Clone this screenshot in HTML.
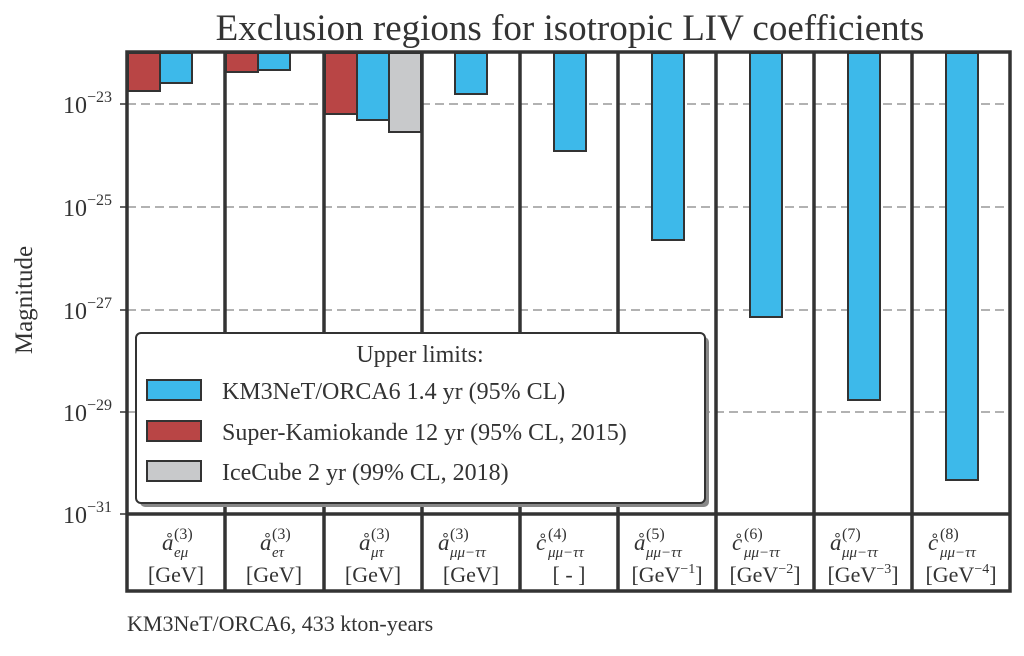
<!DOCTYPE html>
<html><head><meta charset="utf-8"><style>
body{margin:0;background:#fff;}
svg text{font-family:"Liberation Serif",serif;fill:#333;}
</style></head><body>
<svg width="1024" height="651" viewBox="0 0 1024 651" xmlns="http://www.w3.org/2000/svg">
<rect width="1024" height="651" fill="#fff"/>
<text x="570" y="40" font-size="37" text-anchor="middle">Exclusion regions for isotropic LIV coefficients</text>
<g stroke="#999" stroke-width="1.5" stroke-dasharray="9,5">
<line x1="127" y1="104" x2="1010" y2="104"/>
<line x1="127" y1="207" x2="1010" y2="207"/>
<line x1="127" y1="310" x2="1010" y2="310"/>
<line x1="127" y1="412" x2="1010" y2="412"/>
</g>
<g stroke="#333" stroke-width="2">
<rect x="128" y="53" width="32" height="38" fill="#b94545"/>
<rect x="160" y="53" width="32" height="30" fill="#3db9ea"/>
<rect x="226" y="53" width="32" height="19" fill="#b94545"/>
<rect x="258" y="53" width="32" height="17" fill="#3db9ea"/>
<rect x="325" y="53" width="32" height="61" fill="#b94545"/>
<rect x="357" y="53" width="32" height="67" fill="#3db9ea"/>
<rect x="389" y="53" width="32" height="79" fill="#c8c9cb"/>
<rect x="455" y="53" width="32" height="41" fill="#3db9ea"/>
<rect x="554" y="53" width="32" height="98" fill="#3db9ea"/>
<rect x="652" y="53" width="32" height="187" fill="#3db9ea"/>
<rect x="750" y="53" width="32" height="264" fill="#3db9ea"/>
<rect x="848" y="53" width="32" height="347" fill="#3db9ea"/>
<rect x="946" y="53" width="32" height="427" fill="#3db9ea"/>
</g>
<g stroke="#333" stroke-width="3.5" fill="none">
<rect x="127" y="52" width="883" height="539"/>
<line x1="127" y1="514" x2="1010" y2="514"/>
<line x1="225" y1="52" x2="225" y2="591"/>
<line x1="324" y1="52" x2="324" y2="591"/>
<line x1="422" y1="52" x2="422" y2="591"/>
<line x1="520" y1="52" x2="520" y2="591"/>
<line x1="618" y1="52" x2="618" y2="591"/>
<line x1="716" y1="52" x2="716" y2="591"/>
<line x1="814" y1="52" x2="814" y2="591"/>
<line x1="912" y1="52" x2="912" y2="591"/>
</g>
<g stroke="#333" stroke-width="1.5">
<line x1="120" y1="104" x2="127" y2="104"/><line x1="120" y1="207" x2="127" y2="207"/>
<line x1="120" y1="310" x2="127" y2="310"/><line x1="120" y1="412" x2="127" y2="412"/>
<line x1="120" y1="514" x2="127" y2="514"/>
</g>
<g font-size="24" text-anchor="end">
<text x="112" y="113">10<tspan dy="-11" font-size="16">−23</tspan></text>
<text x="112" y="216">10<tspan dy="-11" font-size="16">−25</tspan></text>
<text x="112" y="319">10<tspan dy="-11" font-size="16">−27</tspan></text>
<text x="112" y="421">10<tspan dy="-11" font-size="16">−29</tspan></text>
<text x="112" y="523">10<tspan dy="-11" font-size="16">−31</tspan></text>
</g>
<text transform="translate(32,300) rotate(-90)" font-size="25" text-anchor="middle">Magnitude</text>
<rect x="140" y="337" width="569" height="170" rx="5" fill="#888"/>
<rect x="136" y="333" width="569" height="170" rx="5" fill="#fff" stroke="#333" stroke-width="2"/>
<text x="420" y="362" font-size="24" text-anchor="middle">Upper limits:</text>
<g stroke="#333" stroke-width="2">
<rect x="147" y="380" width="54" height="20" fill="#3db9ea"/>
<rect x="147" y="421" width="54" height="20" fill="#b94545"/>
<rect x="147" y="461" width="54" height="20" fill="#c8c9cb"/>
</g>
<g font-size="24">
<text x="222" y="399">KM3NeT/ORCA6 1.4 yr (95% CL)</text>
<text x="222" y="440">Super-Kamiokande 12 yr (95% CL, 2015)</text>
<text x="222" y="480">IceCube 2 yr (99% CL, 2018)</text>
</g>
<!-- column labels -->
<g font-size="23" font-style="italic">
<text x="162" y="550">å</text><text x="174" y="557" font-size="15">eμ</text><text x="174" y="539" font-size="16" font-style="normal">(3)</text>
<text x="260" y="550">å</text><text x="272" y="557" font-size="15">eτ</text><text x="272" y="539" font-size="16" font-style="normal">(3)</text>
<text x="359" y="550">å</text><text x="371" y="557" font-size="15">μτ</text><text x="371" y="539" font-size="16" font-style="normal">(3)</text>
<text x="438" y="550">å</text><text x="450" y="557" font-size="15">μμ−ττ</text><text x="450" y="539" font-size="16" font-style="normal">(3)</text>
<text x="536" y="550">c̊</text><text x="548" y="557" font-size="15">μμ−ττ</text><text x="548" y="539" font-size="16" font-style="normal">(4)</text>
<text x="634" y="550">å</text><text x="646" y="557" font-size="15">μμ−ττ</text><text x="646" y="539" font-size="16" font-style="normal">(5)</text>
<text x="732" y="550">c̊</text><text x="744" y="557" font-size="15">μμ−ττ</text><text x="744" y="539" font-size="16" font-style="normal">(6)</text>
<text x="830" y="550">å</text><text x="842" y="557" font-size="15">μμ−ττ</text><text x="842" y="539" font-size="16" font-style="normal">(7)</text>
<text x="928" y="550">c̊</text><text x="940" y="557" font-size="15">μμ−ττ</text><text x="940" y="539" font-size="16" font-style="normal">(8)</text>
</g>
<g font-size="22" text-anchor="middle">
<text x="176" y="582">[GeV]</text>
<text x="274" y="582">[GeV]</text>
<text x="373" y="582">[GeV]</text>
<text x="471" y="582">[GeV]</text>
<text x="569" y="582">[ - ]</text>
<text x="667" y="582">[GeV<tspan font-size="14" dy="-9">−1</tspan><tspan dy="9">]</tspan></text>
<text x="765" y="582">[GeV<tspan font-size="14" dy="-9">−2</tspan><tspan dy="9">]</tspan></text>
<text x="863" y="582">[GeV<tspan font-size="14" dy="-9">−3</tspan><tspan dy="9">]</tspan></text>
<text x="961" y="582">[GeV<tspan font-size="14" dy="-9">−4</tspan><tspan dy="9">]</tspan></text>
</g>
<text x="127" y="631" font-size="22">KM3NeT/ORCA6, 433 kton-years</text>
</svg>
</body></html>
